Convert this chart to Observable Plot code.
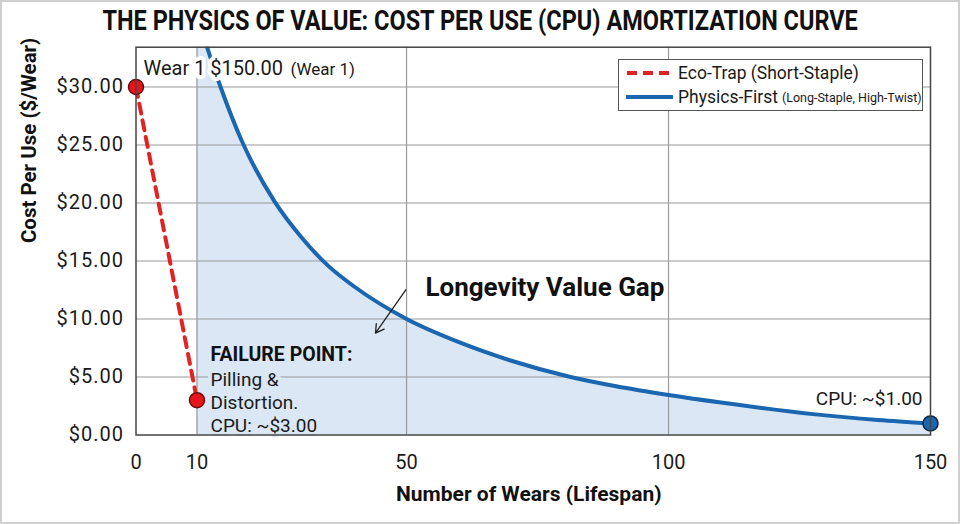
<!DOCTYPE html>
<html><head><meta charset="utf-8">
<script src="https://cdn.jsdelivr.net/npm/d3@7"></script>
<script src="https://cdn.jsdelivr.net/npm/@observablehq/plot@0.6"></script>
<style>
body{margin:0;background:#fff;font-family:Roboto,sans-serif}
#wrap{position:relative;width:960px;height:524px;overflow:hidden;background:#fff}
#border{position:absolute;left:0;top:0;width:960px;height:524px;box-sizing:border-box;border:2px solid #d0d0d0;pointer-events:none}
#title{height:40px;width:960px;position:relative;overflow:visible}
#title div{position:absolute;left:0;top:6px;width:960px;text-align:center;font:700 27px Roboto,sans-serif;color:#111;line-height:30px;white-space:nowrap;transform:scaleX(0.87);transform-origin:481px 50%}
#legend{position:absolute;left:618px;top:59px;width:305px;height:52px;box-sizing:border-box;border:1.3px solid #555;background:#fff;color:#1a1a1a}
#legend .row{position:absolute;left:0;height:24px;display:flex;align-items:center;white-space:nowrap}
#legend .row svg{margin-left:7px;margin-right:5px}
#legend .main{font-size:17.5px}
#legend .small{font-size:12.5px;margin-left:4px}
#chart svg [aria-label="y-axis tick label"] text{letter-spacing:1px}
</style>
</head>
<body>
<div id="wrap">
  <div id="title"><div>THE PHYSICS OF VALUE: COST PER USE (CPU) AMORTIZATION CURVE</div></div>
  <div id="chart"></div>
  <div id="legend">
    <div class="row" style="top:1px">
      <svg width="47" height="8"><line x1="1" y1="4" x2="46" y2="4" stroke="#e02424" stroke-width="4" stroke-dasharray="10,6"/></svg>
      <span class="main">Eco-Trap (Short-Staple)</span>
    </div>
    <div class="row" style="top:25px">
      <svg width="47" height="8"><line x1="1" y1="4" x2="46" y2="4" stroke="#1a66b0" stroke-width="4" stroke-linecap="round"/></svg>
      <span class="main">Physics-First</span><span class="small">(Long-Staple, High-Twist)</span>
    </div>
  </div>
  <div id="border"></div>
</div>
<script>
// ---- data ----
const wearsEco = [0, 10];
const cpuEco = [30, 3];
const wearsPhysics = [11.8, 14.5, 18.6, 24.7, 30, 35, 40, 50, 60, 70, 81.3, 90, 100, 110, 127.6, 140, 150];
const cpuPhysics = [33.6, 30, 25.3, 20.2, 17.0, 14.6, 12.8, 10.0, 8.0, 6.4, 5.0, 4.2, 3.45, 2.8, 1.8, 1.3, 1.0];
const xTicks = [0, 10, 50, 100, 150];
const yTicks = [0, 5, 10, 15, 20, 25, 30];
const yMax = 33.43;
const gapStart = 10; // shaded region starts at wear 10

const eco = wearsEco.map((w, i) => ({w, c: cpuEco[i]}));
const physics = wearsPhysics.map((w, i) => ({w, c: cpuPhysics[i]}));
const areaData = [{w: gapStart, c: yMax}, ...physics];

// the reference axis gives the first 10 wears a little more room than the rest
const firstSpan = 10, firstStretch = 61 / 52.4;
const warp = w => w <= firstSpan ? w * firstStretch : firstSpan * firstStretch + (w - firstSpan);

const fillBlue = "#dbe7f4";
const blue = "#1a66b0";
const red = "#e02424";

const chart = Plot.plot({
  width: 960,
  height: 484,
  marginTop: 6.7,
  marginBottom: 89.5,
  marginLeft: 135.5,
  marginRight: 30,
  style: {fontFamily: "Roboto, sans-serif", background: "transparent", color: "#1a1a1a", overflow: "visible"},
  x: {transform: warp, domain: [warp(0), warp(150)]},
  y: {domain: [0, yMax]},
  marks: [
    Plot.areaY(areaData, {x: "w", y: "c", fill: fillBlue, curve: "monotone-x", clip: true}),
    Plot.gridY(yTicks.filter(d => d > 0), {stroke: "#9a9a9a", strokeOpacity: 1, strokeWidth: 1.2}),
    Plot.gridX(xTicks.filter(d => d > 0 && d < 150), {stroke: "#9a9a9a", strokeOpacity: 1, strokeWidth: 1.2}),
    Plot.axisY(yTicks, {tickSize: 0, tickPadding: 12, fontSize: 20, tickFormat: d => "$" + d.toFixed(2), label: null}),
    Plot.axisX(xTicks, {tickSize: 0, tickPadding: 20, fontSize: 20, tickFormat: d => String(d), label: null}),
    Plot.line(eco, {x: "w", y: "c", stroke: red, strokeWidth: 4, strokeDasharray: "10,7"}),
    Plot.line(physics, {x: "w", y: "c", stroke: blue, strokeWidth: 4, curve: "monotone-x", clip: true}),
    Plot.arrow([{x1: 49.85, y1: 12.52, x2: 44.07, y2: 8.78}], {x1: "x1", y1: "y1", x2: "x2", y2: "y2", stroke: "#222", strokeWidth: 1.3, headLength: 11}),
    // labels
    Plot.text([{x: 0, y: 32.28, t: "Wear 1 $150.00"}], {x: "x", y: "y", text: "t", dx: 7.5, textAnchor: "start", lineAnchor: "top", fontSize: 20, fill: "#1a1a1a", stroke: "white", strokeWidth: 8}),
    Plot.text([{x: 0, y: 32.1, t: "(Wear 1)"}], {x: "x", y: "y", text: "t", dx: 154.5, textAnchor: "start", lineAnchor: "top", fontSize: 17, fill: "#1a1a1a", stroke: "white", strokeWidth: 8}),
    Plot.text([{x: 53.6, y: 13.6, t: "Longevity Value Gap"}], {x: "x", y: "y", text: "t", textAnchor: "start", lineAnchor: "top", fontSize: 26, fontWeight: "bold", fill: "#111", stroke: "white", strokeWidth: 8}),
    Plot.text([{x: 12.58, y: 7.57, t: "FAILURE POINT:"}], {x: "x", y: "y", text: "t", textAnchor: "start", lineAnchor: "top", fontSize: 19.5, fontWeight: "bold", fill: "#111", stroke: fillBlue, strokeWidth: 8}),
    Plot.text([{x: 12.58, y: 5.57, t: "Pilling &\nDistortion.\nCPU: ~$3.00"}], {x: "x", y: "y", text: "t", textAnchor: "start", lineAnchor: "top", lineHeight: 1.19, fontSize: 19, fill: "#1a1a1a", stroke: fillBlue, strokeWidth: 8}),
    Plot.text([{x: 150, y: 3.78, t: "CPU: ~$1.00"}], {x: "x", y: "y", text: "t", dx: -8, textAnchor: "end", lineAnchor: "top", fontSize: 19, fill: "#1a1a1a", stroke: "white", strokeWidth: 6}),
    // axis titles
    Plot.text(["Number of Wears (Lifespan)"], {frameAnchor: "bottom", dy: 51.5, dx: -4.5, lineAnchor: "top", fontSize: 21, fontWeight: "bold", fill: "#111"}),
    Plot.text(["Cost Per Use ($/Wear)"], {frameAnchor: "left", dx: -106.5, dy: 2, rotate: -90, fontSize: 20.5, fontWeight: "bold", fill: "#111"}),
    // points
    Plot.dot(eco, {x: "w", y: "c", r: 7.5, fill: "#e8141b", stroke: "#6b0d0d", strokeWidth: 1.5}),
    Plot.dot(physics.slice(-1), {x: "w", y: "c", r: 7.5, fill: blue, stroke: "#0b2545", strokeWidth: 1.5}),
    Plot.frame({stroke: "#444", strokeWidth: 1.5})
  ]
});
document.getElementById("chart").appendChild(chart);
</script>
</body></html>
